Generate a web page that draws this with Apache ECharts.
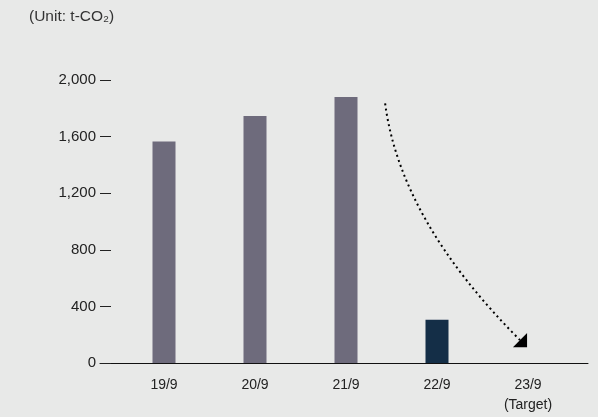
<!DOCTYPE html>
<html>
<head>
<meta charset="utf-8">
<script src="https://cdn.jsdelivr.net/npm/echarts@6/dist/echarts.min.js"></script>
<style>
  html, body { margin: 0; padding: 0; background: #e8e9e8; }
  #chart { width: 598px; height: 417px; }
</style>
</head>
<body>
<div id="chart"></div>
<script>
// Fiscal years (September year-end) and CO2 emissions in t-CO2
const categories = ['19/9', '20/9', '21/9', '22/9', '23/9\n(Target)'];
const emissions = [1565, 1745, 1880, 305, null];
const barColors = ['#6e6b7c', '#6e6b7c', '#6e6b7c', '#142e47', '#142e47'];
const yTicks = { min: 0, max: 2000, interval: 400 };
const unitLabel = '(Unit: t-CO\u2082)';
// Reduction arrow: [category position, value] for start and tip
const arrowFrom = [2.43, 1835];
const arrowTo = [3.99, 112];

const FONT = '"Liberation Sans", Arial, sans-serif';

const chart = echarts.init(document.getElementById('chart'));

const option = {
  backgroundColor: '#e8e9e8',
  animation: false,
  textStyle: { fontFamily: FONT },
  title: {
    text: unitLabel,
    left: 29,
    top: 9,
    padding: 0,
    textStyle: { fontSize: 15.5, fontWeight: 'normal', color: '#333', fontFamily: FONT }
  },
  grid: [
    { left: 118.5, right: 24.5, top: 80, bottom: 54 },
    { left: 100, right: 10, top: 80, bottom: 54 }
  ],
  xAxis: [
    {
      type: 'category',
      gridIndex: 0,
      data: categories,
      axisLine: { show: false },
      axisTick: { show: false },
      axisLabel: { color: '#222', fontSize: 14, margin: 12, lineHeight: 20, fontFamily: FONT }
    },
    {
      type: 'value',
      gridIndex: 1,
      min: 0, max: 1,
      axisLine: { show: true, onZero: false, lineStyle: { color: '#111', width: 1 } },
      axisTick: { show: false },
      axisLabel: { show: false },
      splitLine: { show: false }
    }
  ],
  yAxis: [
    {
      type: 'value',
      gridIndex: 0,
      min: yTicks.min, max: yTicks.max, interval: yTicks.interval,
      show: false
    },
    {
      type: 'value',
      gridIndex: 1,
      min: yTicks.min, max: yTicks.max, interval: yTicks.interval,
      axisLine: { show: false },
      axisTick: { show: true, inside: true, length: 11, lineStyle: { color: '#222', width: 1 } },
      axisLabel: {
        color: '#222', fontSize: 15, margin: 4, fontFamily: FONT,
        formatter: v => v.toLocaleString('en-US')
      },
      splitLine: { show: false }
    }
  ],
  series: [
    {
      type: 'bar',
      xAxisIndex: 0,
      yAxisIndex: 0,
      barWidth: 23,
      data: emissions.map((v, i) => ({ value: v, itemStyle: { color: barColors[i] } }))
    }
  ]
};

chart.setOption(option);

// Pixel position of a fractional category position and value in the bar grid
function toPixel(pos) {
  const i = Math.floor(pos[0]);
  const f = pos[0] - i;
  const a = chart.convertToPixel({ gridIndex: 0 }, [i, pos[1]]);
  const b = chart.convertToPixel({ gridIndex: 0 }, [i + 1, pos[1]]);
  return [a[0] + (b[0] - a[0]) * f, a[1]];
}

const p0 = toPixel(arrowFrom);
const tip = toPixel(arrowTo);
// Arrowhead points down-right at 45 degrees
const head = 10;
const dir = [Math.SQRT1_2, Math.SQRT1_2];
const base = [tip[0] - dir[0] * head, tip[1] - dir[1] * head];
const perp = [-dir[1], dir[0]];
// Curve leaves almost vertically and bends toward the tip
const s = ((base[0] - p0[0]) - (base[1] - p0[1])) / (0.13 - 1);
const cp = [p0[0] + 0.13 * s, p0[1] + s];

chart.setOption({
  graphic: [
    {
      type: 'bezierCurve',
      shape: { x1: p0[0], y1: p0[1], x2: base[0], y2: base[1], cpx1: cp[0], cpy1: cp[1] },
      style: { stroke: '#000', lineWidth: 2, lineDash: [2, 3.3], fill: null }
    },
    {
      type: 'polygon',
      shape: {
        points: [
          tip,
          [base[0] + perp[0] * head, base[1] + perp[1] * head],
          [base[0] - perp[0] * head, base[1] - perp[1] * head]
        ]
      },
      style: { fill: '#000' }
    }
  ]
});
</script>
</body>
</html>
